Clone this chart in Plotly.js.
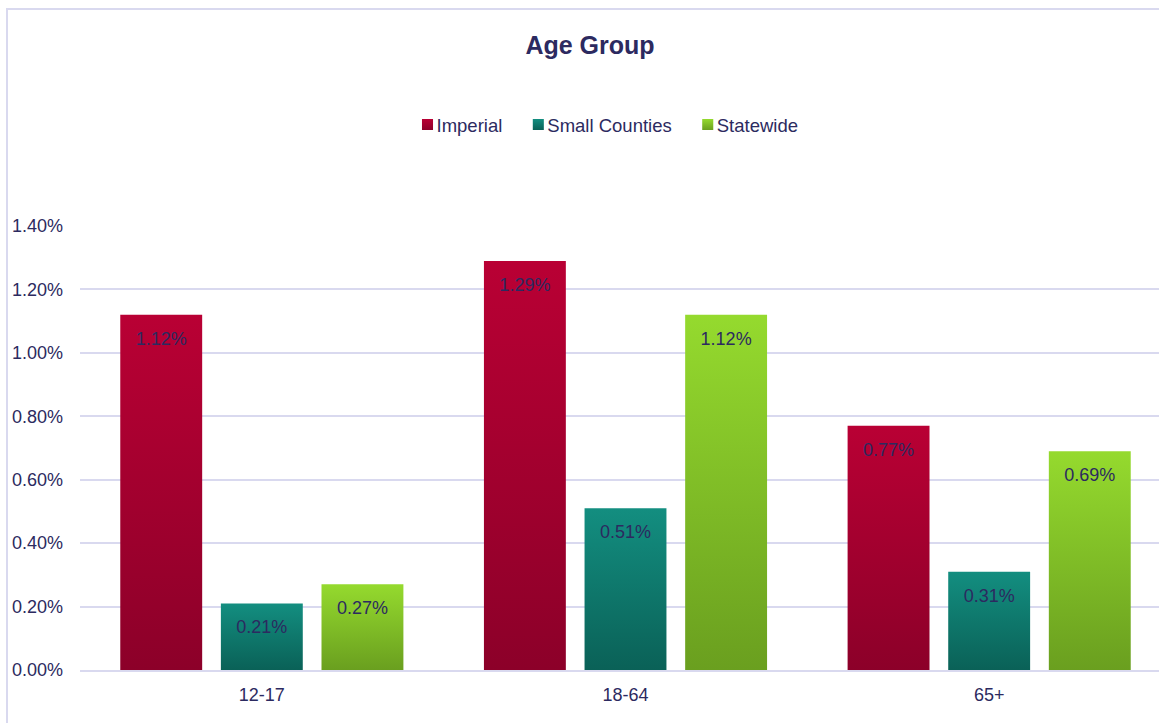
<!DOCTYPE html>
<html>
<head>
<meta charset="utf-8">
<script src="https://cdn.plot.ly/plotly-3.0.1.min.js"></script>
<style>
html,body{margin:0;padding:0;background:#fff;overflow:hidden;width:1159px;height:723px;}
#chart{width:1180px;height:723px;}
</style>
</head>
<body>
<div id="chart"></div>
<script>
const categories = ["12-17", "18-64", "65+"];
const imperial = [1.12, 1.29, 0.77];
const smallCounties = [0.21, 0.51, 0.31];
const statewide = [0.27, 1.12, 0.69];
const seriesNames = ["Imperial", "Small Counties", "Statewide"];
const yTickVals = [0, 0.2, 0.4, 0.6, 0.8, 1.0, 1.2, 1.4];
const yTickText = ["0.00%", "0.20%", "0.40%", "0.60%", "0.80%", "1.00%", "1.20%", "1.40%"];

const FONT = "Liberation Sans, Arial, sans-serif";
const textColor = "#2C2A60";
const gridColor = "#D9D9EF";
const solid = ["#A8002F", "#0E7A6D", "#80C027"];
const grads = [
  ["#B90034", "#8C0029"],
  ["#138E80", "#0A6157"],
  ["#95DA2E", "#6A9F1F"]
];

function mk(vals, i) {
  return {
    type: "bar",
    name: seriesNames[i],
    x: categories,
    y: vals,
    text: vals.map(v => v.toFixed(2) + "%"),
    textposition: "inside",
    insidetextanchor: "end",
    textangle: 0,
    textfont: {color: textColor, size: 18, family: FONT},
    constraintext: "none",
    marker: {color: solid[i], line: {width: 0}},
    hoverinfo: "none"
  };
}

const data = [mk(imperial, 0), mk(smallCounties, 1), mk(statewide, 2)];

const W = 1180, L = 80, R = 9, T = 226, B = 53, H = 723;
const pw = W - L - R, ph = H - T - B;
function px(x) { return (x - L) / pw; }
function py(y) { return (H - B - y) / ph; }

const layout = {
  width: W, height: H,
  margin: {l: L, r: R, t: T, b: B},
  paper_bgcolor: "#fff",
  plot_bgcolor: "#fff",
  font: {family: FONT, color: textColor, size: 18},
  title: {
    text: "<b>Age Group</b>",
    font: {size: 25, color: textColor, family: FONT},
    x: px(590), xref: "paper", xanchor: "center",
    y: 1 - 45 / H, yref: "container", yanchor: "middle"
  },
  showlegend: true,
  legend: {
    orientation: "h",
    x: px(600), xanchor: "center",
    y: py(125), yanchor: "middle",
    font: {size: 18.5, color: textColor, family: FONT},
    itemwidth: 30,
    tracegroupgap: 0,
    traceorder: "normal",
    itemclick: false
  },
  barmode: "group",
  bargap: 0.17,
  bargroupgap: 0.186,
  xaxis: {
    type: "category",
    showgrid: false,
    showline: true,
    linecolor: gridColor,
    linewidth: 2,
    ticks: "",
    ticklabelstandoff: 7,
    tickfont: {size: 18, color: textColor, family: FONT},
    zeroline: false,
    fixedrange: true
  },
  yaxis: {
    range: [0, 1.4],
    tickvals: yTickVals,
    ticktext: yTickText,
    showgrid: true,
    gridcolor: gridColor,
    gridwidth: 2,
    zeroline: false,
    showline: false,
    ticks: "",
    ticklabelstandoff: 16,
    tickfont: {size: 18, color: textColor, family: FONT},
    fixedrange: true
  },
  shapes: [{
    type: "rect",
    xref: "paper", yref: "paper",
    x0: px(7), x1: px(1300),
    y0: py(9), y1: py(800),
    line: {color: gridColor, width: 2},
    fillcolor: "rgba(0,0,0,0)",
    layer: "below"
  }]
};

function applyStyling(gd) {
  const svg = gd.querySelector("svg.main-svg");
  if (!svg) return;
  let defs = svg.querySelector("defs");
  if (!defs) {
    defs = document.createElementNS("http://www.w3.org/2000/svg", "defs");
    svg.insertBefore(defs, svg.firstChild);
  }
  grads.forEach((g, i) => {
    if (document.getElementById("bg" + i)) return;
    const lg = document.createElementNS("http://www.w3.org/2000/svg", "linearGradient");
    lg.setAttribute("id", "bg" + i);
    lg.setAttribute("x1", "0"); lg.setAttribute("y1", "0");
    lg.setAttribute("x2", "0"); lg.setAttribute("y2", "1");
    [[0, g[0]], [1, g[1]]].forEach(s => {
      const st = document.createElementNS("http://www.w3.org/2000/svg", "stop");
      st.setAttribute("offset", s[0]);
      st.setAttribute("stop-color", s[1]);
      lg.appendChild(st);
    });
    defs.appendChild(lg);
  });
  const traces = gd.querySelectorAll(".barlayer .trace.bars");
  traces.forEach((t, i) => {
    t.querySelectorAll(".point path").forEach(p => {
      p.style.fill = "url(#bg" + i + ")";
    });
    // label sits a little lower inside the bar top, as in the reference
    t.querySelectorAll(".point text").forEach(tx => {
      const tr = tx.getAttribute("transform") || "";
      tx.setAttribute("transform", "translate(0,11) " + tr);
    });
  });
  // legend swatches: gradient and closer to their text
  const legendItems = gd.querySelectorAll(".legend .traces");
  legendItems.forEach((li, i) => {
    li.querySelectorAll(".legendpoints path").forEach(p => {
      p.style.fill = "url(#bg" + i + ")";
      p.setAttribute("transform", "translate(31,0) scale(0.92)");
    });
  });
}

Plotly.newPlot("chart", data, layout, {displayModeBar: false, staticPlot: true}).then(gd => {
  applyStyling(gd);
});
</script>
</body>
</html>
